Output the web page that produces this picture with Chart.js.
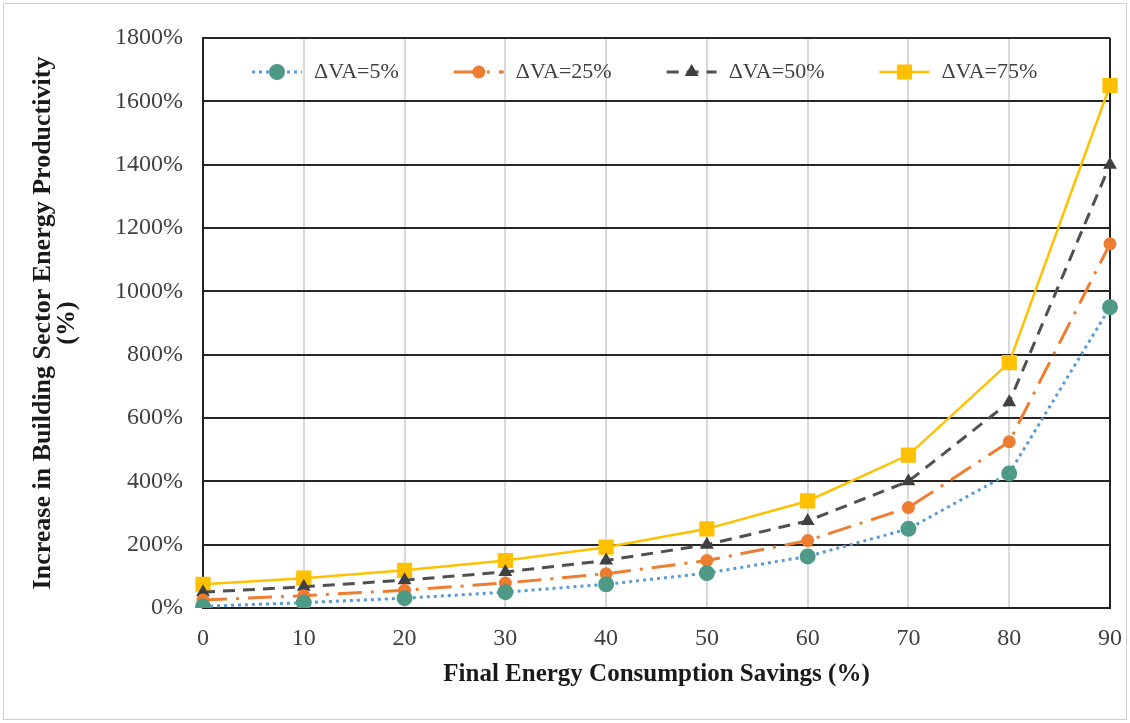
<!DOCTYPE html>
<html>
<head>
<meta charset="utf-8">
<script src="https://cdn.jsdelivr.net/npm/chart.js@4.4.1/dist/chart.umd.min.js"></script>
<style>
  html, body { margin: 0; padding: 0; background: #fff; }
  #wrap { width: 1130px; height: 723px; position: relative; }
</style>
</head>
<body>
<div id="wrap"><canvas id="chart"></canvas></div>
<script>
// x axis: final energy consumption savings (%)
var savings = ["0", "10", "20", "30", "40", "50", "60", "70", "80", "90"];

// increase in productivity (%), one array per ΔVA
var va5  = [5, 17, 31, 50, 75, 110, 163, 250, 425, 950];
var va25 = [25, 39, 56, 79, 108, 150, 213, 317, 525, 1150];
var va50 = [50, 67, 88, 114, 150, 200, 275, 400, 650, 1400];
var va75 = [75, 94, 119, 150, 192, 250, 338, 483, 775, 1650];
var seriesNames = ["ΔVA=5%", "ΔVA=25%", "ΔVA=50%", "ΔVA=75%"];

// y ticks
var yTicks = [0, 200, 400, 600, 800, 1000, 1200, 1400, 1600, 1800];

Chart.defaults.font.family = '"Liberation Serif", "Times New Roman", serif';

// outer frame
var frame = {
  id: 'frame',
  beforeDraw: function (chart) {
    var ctx = chart.ctx;
    ctx.save();
    ctx.fillStyle = '#fff';
    ctx.fillRect(0, 0, chart.width, chart.height);
    ctx.strokeStyle = '#d0d0d0';
    ctx.lineWidth = 1;
    ctx.strokeRect(3.5, 3.5, chart.width - 7, chart.height - 7);
    ctx.restore();
  }
};

// legend inside the plot, line sample + marker
var lineLegend = {
  id: 'lineLegend',
  afterDraw: function (chart) {
    var ctx = chart.ctx;
    var x = 252, y = 72;
    ctx.save();
    ctx.font = '22px "Liberation Serif"';
    ctx.textBaseline = 'middle';
    chart.data.datasets.forEach(function (ds) {
      ctx.strokeStyle = ds.borderColor;
      ctx.lineWidth = ds.borderWidth;
      ctx.setLineDash(ds.borderDash || []);
      ctx.beginPath();
      ctx.moveTo(x, y);
      ctx.lineTo(x + 50, y);
      ctx.stroke();
      ctx.setLineDash([]);
      ctx.fillStyle = ds.pointBackgroundColor;
      ctx.strokeStyle = ds.pointBorderColor;
      Chart.helpers.drawPoint(ctx, { pointStyle: ds.pointStyle, radius: ds.pointRadius, borderWidth: 1 }, x + 25, y);
      ctx.fillStyle = '#404040';
      ctx.fillText(ds.label, x + 62, y);
      x += 62 + ctx.measureText(ds.label).width + 55;
    });
    ctx.restore();
  }
};

var ctx = document.getElementById('chart');
var chart = new Chart(ctx, {
  type: 'line',
  data: {
    labels: savings,
    datasets: [
      {
        label: seriesNames[0],
        data: va5,
        borderColor: '#5B9BD5',
        borderWidth: 3,
        borderDash: [3, 4],
        pointStyle: 'circle',
        pointRadius: 6.5,
        pointBackgroundColor: '#4E9A86',
        pointBorderColor: '#4E9A86'
      },
      {
        label: seriesNames[1],
        data: va25,
        borderColor: '#ED7D31',
        borderWidth: 3,
        borderDash: [24, 9, 3, 9],
        pointStyle: 'circle',
        pointRadius: 5,
        pointBackgroundColor: '#ED7D31',
        pointBorderColor: '#ED7D31'
      },
      {
        label: seriesNames[2],
        data: va50,
        borderColor: '#505050',
        borderWidth: 3,
        borderDash: [12, 8],
        pointStyle: 'triangle',
        pointRadius: 5,
        pointBackgroundColor: '#404040',
        pointBorderColor: '#404040'
      },
      {
        label: seriesNames[3],
        data: va75,
        borderColor: '#FFC000',
        borderWidth: 2.5,
        pointStyle: 'rect',
        pointRadius: 9,
        pointBackgroundColor: '#FFC000',
        pointBorderColor: '#FFC000'
      }
    ]
  },
  options: {
    responsive: true,
    maintainAspectRatio: false,
    animation: false,
    layout: { padding: { left: 10, right: 20, top: 38, bottom: 20 } },
    plugins: {
      legend: { display: false },
      tooltip: { enabled: false }
    },
    elements: { line: { tension: 0 } },
    scales: {
      x: {
        offset: false,
        grid: {
          drawTicks: false,
          lineWidth: 2,
          color: function (c) { return (c.index === 0 || c.index === savings.length - 1) ? '#222' : '#d9d9d9'; }
        },
        border: { color: '#222', width: 2 },
        ticks: { color: '#404040', font: { size: 24 }, padding: 16, maxRotation: 0 },
        title: {
          display: true,
          text: 'Final Energy Consumption Savings (%)',
          color: '#1a1a1a',
          font: { size: 25, weight: 'bold' },
          padding: { top: 0, bottom: 13 }
        },
        afterFit: function (s) {
          s.height = 95;
          s.paddingRight = 0;
          s.paddingLeft = 0;
        }
      },
      y: {
        min: yTicks[0],
        max: yTicks[yTicks.length - 1],
        grid: { drawTicks: false, lineWidth: 2, color: '#262626' },
        border: { color: '#222', width: 2 },
        ticks: {
          stepSize: yTicks[1] - yTicks[0],
          color: '#404040',
          font: { size: 24 },
          padding: 20,
          callback: function (v) { return v + '%'; }
        },
        title: {
          display: true,
          text: ['Increase in Building Sector Energy Productivity', '(%)'],
          color: '#1a1a1a',
          font: { size: 26, weight: 'bold', lineHeight: 0.9 },
          padding: { top: 22, bottom: 0 }
        },
        afterFit: function (s) { s.width = 193; }
      }
    }
  },
  plugins: [frame, lineLegend]
});
</script>
</body>
</html>
